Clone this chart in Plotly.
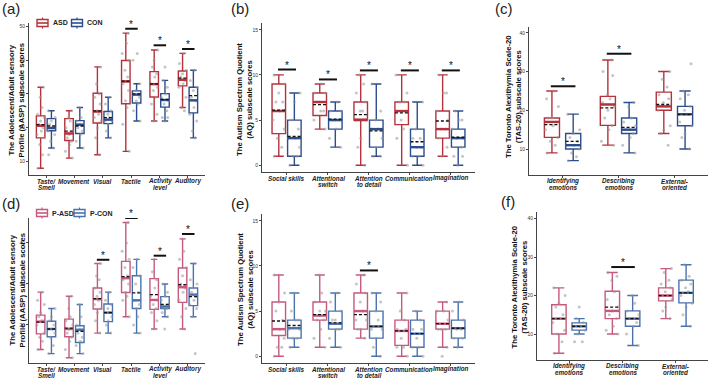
import plotly.graph_objects as go

W, H = 709, 382

# ------------------------------------------------------------------ data
AASP_CATS = ["Taste/<br>Smell", "Movement", "Visual", "Tactile", "Activity<br>level", "Auditory"]
AQ_CATS = ["Social skills", "Attentional<br>switch", "Attention<br>to detail", "Communication", "Imagination"]
TAS_CATS = ["Identifying<br>emotions", "Describing<br>emotions", "External-<br>oriented"]

# (a) AASP, ASD vs CON
A_ASD = dict(low=[8, 11, 12, 13, 22, 26], q1=[17, 16.2, 21.4, 27.1, 29.1, 32.4],
             med=[20.6, 18.3, 24.8, 33.7, 32.9, 34.2], q3=[23.5, 22.7, 30.2, 39.9, 36.6, 36.8],
             high=[32, 25, 38, 48, 43, 42], mean=[20.9, 19, 25, 33.8, 33, 34.7])
A_CON = dict(low=[14, 14, 17, 22, 22, 17], q1=[19.1, 18.3, 21.2, 27.3, 26.1, 24.4],
             med=[19.9, 20.9, 22.4, 29.8, 28.2, 28.1], q3=[22.7, 22.1, 24.8, 30.9, 30.1, 32],
             high=[25, 26, 29, 33, 34, 37], mean=[20.5, 20.5, 23, 30, 28.4, 29.5])
A_ASD_PTS = [[8, 12, 15, 17, 18, 19, 20, 21, 22, 23, 24, 26, 29, 32],
             [11, 13, 15, 16, 17, 18, 19, 20, 22, 23, 25],
             [12, 17, 20, 22, 23, 24, 25, 27, 29, 30, 33, 38],
             [13, 21, 26, 28, 31, 33, 35, 37, 40, 42, 45, 48],
             [22, 24, 27, 29, 31, 32, 33, 35, 36, 38, 40, 43],
             [25, 26, 29, 32, 33, 34, 35, 36, 37, 39, 42]]
A_CON_PTS = [[12, 14, 16, 18, 19, 20, 20, 21, 22, 23, 25],
             [14, 16, 18, 19, 20, 21, 21, 22, 23, 26],
             [17, 19, 21, 22, 22, 23, 24, 25, 27, 29],
             [22, 25, 27, 28, 29, 30, 30, 31, 33, 40, 42],
             [22, 23, 23, 25, 27, 28, 29, 30, 32, 34, 38],
             [17, 19, 22, 24, 26, 28, 29, 31, 32, 34, 37]]
A_SIG_CAT = [3, 4, 5]
A_SIG_Y = [49.3, 44.4, 43.3]

# (b) AQ, ASD vs CON
B_ASD = dict(low=[1, 4, 0, 0, 1], q1=[3.5, 5.5, 5, 4.5, 3], med=[6, 7, 5, 6, 4],
             q3=[9, 8, 7, 7, 6], high=[10, 9, 10, 10, 10], mean=[6.1, 6.7, 5.6, 5.8, 4.9])
B_CON = dict(low=[0, 2, 1, 0, 0], q1=[1, 4, 2, 1, 2], med=[3, 5, 4, 2, 3],
             q3=[5, 6, 5, 4, 4], high=[8, 7, 9, 7, 6], mean=[3.2, 5.1, 3.8, 2.6, 3.1])
B_ASD_PTS = [[1, 2, 3, 4, 5, 6, 7, 7, 8, 9, 10],
             [4, 5, 6, 6, 7, 7, 8, 8, 9],
             [0, 2, 3, 5, 5, 6, 6, 7, 8, 9, 10],
             [0, 3, 4, 5, 6, 6, 7, 7, 8, 10],
             [1, 2, 3, 4, 4, 5, 6, 8, 8, 10]]
B_CON_PTS = [[0, 1, 1, 2, 3, 3, 4, 5, 7, 8],
             [2, 3, 4, 5, 5, 5, 6, 6, 7],
             [1, 1, 2, 3, 4, 4, 5, 6, 9],
             [0, 1, 1, 2, 2, 3, 3, 4, 7],
             [0, 1, 1, 2, 3, 3, 4, 5, 5, 6]]
B_SIG_CAT = [0, 1, 2, 3, 4]
B_SIG_Y = [10.6, 9.5, 10.5, 10.5, 10.5]

# (c) TAS-20, ASD vs CON
C_ASD = dict(low=[9, 11, 14], q1=[13, 16.1, 20], med=[17, 21.5, 21],
             q3=[18, 23.6, 24.7], high=[25, 33, 30], mean=[16.3, 20.6, 21.5])
C_CON = dict(low=[7, 9, 10], q1=[10, 14, 16], med=[11, 15, 19],
             q3=[14, 18, 21], high=[19, 22, 25], mean=[12, 15.6, 18.9])
C_ASD_PTS = [[9, 11, 12, 13, 15, 16, 17, 18, 18, 21, 23, 25],
             [11, 12, 15, 16, 18, 20, 21, 22, 23, 24, 29, 30, 33],
             [11, 14, 15, 16, 20, 21, 22, 23, 24, 26, 28, 30]]
C_CON_PTS = [[7, 8, 9, 10, 11, 11, 12, 13, 14, 15, 19],
             [9, 11, 13, 14, 15, 15, 16, 17, 18, 21, 22],
             [10, 13, 14, 16, 17, 19, 20, 21, 23, 24, 25, 32]]
C_SIG_CAT = [0, 1]
C_SIG_Y = [26.2, 34.6]

# (d) AASP, P-ASD vs P-CON
D_ASD = dict(low=[14, 12, 18, 22, 19, 19], q1=[17.8, 17.1, 23.9, 27.9, 23.8, 25.5],
             med=[20.8, 19, 26.3, 31.4, 26.1, 29.2], q3=[22.4, 21.4, 29, 35.5, 31.3, 33.9],
             high=[28, 27, 35, 45, 36, 41], mean=[20.7, 19.2, 26.4, 31.8, 27.4, 29.8])
D_CON = dict(low=[13, 13, 18, 18, 22, 22], q1=[17.1, 15.7, 20.8, 24, 24, 24.7],
             med=[19, 18.8, 23, 26, 24.5, 27.4], q3=[20.9, 19.8, 25.1, 32, 26.9, 29],
             high=[24, 25, 28, 36, 30, 35], mean=[19, 18.4, 23, 27.8, 25, 26.9])
D_ASD_PTS = [[14, 16, 17, 18, 20, 21, 21, 22, 23, 25, 26, 28],
             [12, 14, 16, 17, 18, 19, 20, 21, 22, 24, 27],
             [18, 21, 23, 24, 25, 26, 27, 28, 29, 31, 32, 35],
             [22, 26, 27, 28, 30, 31, 32, 34, 36, 38, 40, 45],
             [19, 21, 23, 24, 25, 26, 27, 29, 31, 33, 36],
             [19, 22, 24, 26, 28, 29, 30, 32, 34, 36, 38, 41]]
D_CON_PTS = [[13, 15, 17, 18, 19, 19, 20, 21, 22, 24],
             [13, 15, 16, 17, 18, 19, 19, 20, 22, 25],
             [18, 20, 21, 22, 23, 23, 24, 25, 26, 28],
             [18, 20, 22, 24, 25, 26, 28, 30, 32, 34, 36],
             [19, 22, 23, 24, 24, 25, 26, 27, 28, 30],
             [13, 22, 24, 25, 26, 27, 28, 29, 30, 31, 35]]
D_SIG_CAT = [2, 3, 4, 5]
D_SIG_Y = [35.9, 46.1, 36.9, 42.2]

# (e) AQ, P-ASD vs P-CON
E_ASD = dict(low=[0, 1, 2, 0, 1], q1=[2.3, 4, 3, 1.2, 3], med=[3, 4.5, 5, 2.8, 3.6],
             q3=[6, 6, 7, 4, 5], high=[9, 9, 9, 7, 6], mean=[3.9, 4.6, 4.6, 2.8, 3.6])
E_CON = dict(low=[1, 1, 0, 0, 1], q1=[2, 3, 2, 1, 2], med=[3.1, 3.6, 3.3, 2.5, 3.1],
             q3=[4, 5, 5, 4, 4], high=[7, 7, 7, 5, 6], mean=[3.4, 3.7, 3.3, 2.5, 3.1])
E_ASD_PTS = [[0, 1, 1, 2, 3, 3, 4, 5, 6, 7, 9],
             [1, 2, 3, 4, 4, 5, 5, 6, 7, 9],
             [2, 3, 3, 4, 4, 5, 6, 7, 8, 9],
             [0, 1, 1, 2, 3, 3, 4, 5, 7],
             [0, 1, 3, 3, 3, 4, 5, 5, 6]]
E_CON_PTS = [[1, 2, 2, 3, 3, 4, 4, 5, 7],
             [1, 2, 3, 3, 4, 4, 5, 6, 7],
             [0, 1, 2, 3, 3, 4, 5, 6, 7],
             [0, 1, 1, 2, 3, 3, 4, 5],
             [1, 2, 2, 3, 3, 4, 5, 6]]
E_SIG_CAT = [2]
E_SIG_Y = [9.5]

# (f) TAS-20, P-ASD vs P-CON
F_ASD = dict(low=[5, 10, 14], q1=[10, 14, 18.6], med=[14, 16, 20],
             q3=[17.6, 21.1, 22], high=[22, 26, 27], mean=[14, 17, 20])
F_CON = dict(low=[10, 7, 12], q1=[11, 12, 18.1], med=[12, 14, 20.7],
             q3=[12.9, 16, 24], high=[14, 20, 28], mean=[12, 14, 20.7])
F_ASD_PTS = [[5, 8, 10, 11, 13, 14, 15, 17, 18, 20, 22],
             [10, 11, 12, 14, 15, 16, 17, 19, 21, 24, 25, 26],
             [14, 16, 17, 19, 20, 20, 21, 22, 23, 24, 26, 27]]
F_CON_PTS = [[8, 8, 10, 11, 12, 12, 13, 14, 17],
             [7, 10, 12, 13, 14, 14, 15, 16, 18, 20],
             [12, 15, 17, 18, 20, 21, 22, 23, 24, 25, 28]]
F_SIG_CAT = [1]
F_SIG_Y = [27.4]

# ------------------------------------------------------------------ style
RED1, BLUE1 = "#b5323d", "#2c4d8c"
RED2, BLUE2 = "#c75a7c", "#4a72b0"
PT_COLOR = "rgba(150,150,150,0.55)"
FONT = "Liberation Sans, Arial, sans-serif"
OFF = 0.19     # dodge offset
JIT = [-0.09, 0.06, -0.03, 0.11, -0.12, 0.02, 0.08, -0.06, 0.0, 0.12, -0.1, 0.04, -0.01, 0.09]
XLAB_GAP = 6.0      # px from axis line to first label line centre
XLAB_LINE = 6.4     # px between label lines

# panel pixel boxes: left, right, top, bottom
PANELS = [
    dict(lab="(a)", lab_xy=(11, 9), cats=AASP_CATS, g=(A_ASD, A_CON), pts=(A_ASD_PTS, A_CON_PTS),
         cols=(RED1, BLUE1), box=(29, 205, 23, 175), yr=(6, 51), dt=10, bw=0.3,
         sig=(A_SIG_CAT, A_SIG_Y),
         title="The Adolescent/Adult sensory<br>Profile (AASP) subscale scores", title_xy=(16.5, 100)),
    dict(lab="(b)", lab_xy=(240, 9), cats=AQ_CATS, g=(B_ASD, B_CON), pts=(B_ASD_PTS, B_CON_PTS),
         cols=(RED1, BLUE1), box=(262, 475, 23, 172), yr=(-0.75, 15.75), dt=5, bw=0.33,
         sig=(B_SIG_CAT, B_SIG_Y),
         title="The Autism Spectrum Quotient<br>(AQ) subscale scores", title_xy=(245, 100)),
    dict(lab="(c)", lab_xy=(504, 9), cats=TAS_CATS, g=(C_ASD, C_CON), pts=(C_ASD_PTS, C_CON_PTS),
         cols=(RED1, BLUE1), box=(529, 708, 27, 175), yr=(3.3, 41.5), dt=10, bw=0.27,
         sig=(C_SIG_CAT, C_SIG_Y),
         title="The Toronto Alexithymia Scale-20<br>(TAS-20) subscale scores", title_xy=(513, 97)),
    dict(lab="(d)", lab_xy=(11, 203), cats=AASP_CATS, g=(D_ASD, D_CON), pts=(D_ASD_PTS, D_CON_PTS),
         cols=(RED2, BLUE2), box=(29, 205, 218, 363), yr=(10.7, 46.1), dt=10, bw=0.3,
         sig=(D_SIG_CAT, D_SIG_Y),
         title="The Adolescent/Adult sensory<br>Profile (AASP) subscale scores", title_xy=(16.5, 290)),
    dict(lab="(e)", lab_xy=(240, 203), cats=AQ_CATS, g=(E_ASD, E_CON), pts=(E_ASD_PTS, E_CON_PTS),
         cols=(RED2, BLUE2), box=(262, 475, 214, 363), yr=(-0.75, 15.75), dt=5, bw=0.33,
         sig=(E_SIG_CAT, E_SIG_Y),
         title="The Autism Spectrum Quotient<br>(AQ) subscale scores", title_xy=(245, 290)),
    dict(lab="(f)", lab_xy=(508, 202), cats=TAS_CATS, g=(F_ASD, F_CON), pts=(F_ASD_PTS, F_CON_PTS),
         cols=(RED2, BLUE2), box=(537, 708, 212, 360), yr=(3.25, 41.7), dt=10, bw=0.27,
         sig=(F_SIG_CAT, F_SIG_Y),
         title="The Toronto Alexithymia Scale-20<br>(TAS-20) subscale scores", title_xy=(518.5, 287)),
]

LEGENDS = [
    dict(names=["ASD", "CON"], cols=(RED1, BLUE1), y=23, icon_x=(42.5, 77), text_x=(51, 85)),
    dict(names=["P-ASD", "P-CON"], cols=(RED2, BLUE2), y=213, icon_x=(42, 79.5), text_x=(50, 87.5)),
]


def px(x):
    return x / W


def py(y):
    return 1 - y / H


fig = go.Figure()
annotations = []
shapes = []
layout_axes = {}

for k, p in enumerate(PANELS, start=1):
    xa = "x" if k == 1 else f"x{k}"
    ya = "y" if k == 1 else f"y{k}"
    n = len(p["cats"])
    bw = p["bw"]
    for gi, (stats, pts, col) in enumerate(zip(p["g"], p["pts"], p["cols"])):
        off = -OFF if gi == 0 else OFF
        pos = [i + off for i in range(n)]
        fig.add_trace(go.Box(
            x=pos, q1=stats["q1"], median=stats["med"], q3=stats["q3"],
            lowerfence=stats["low"], upperfence=stats["high"],
            boxpoints=False, width=bw, whiskerwidth=0.75,
            line=dict(color=col, width=1.4), fillcolor="rgba(255,255,255,0)",
            xaxis=xa, yaxis=ya, showlegend=False, hoverinfo="skip"))
        # jittered observations
        jx, jy = [], []
        for i, vals in enumerate(pts):
            for j, v in enumerate(vals):
                jx.append(pos[i] + JIT[(j + i * 3) % len(JIT)] * bw / 0.28)
                jy.append(v)
        fig.add_trace(go.Scatter(x=jx, y=jy, mode="markers",
                                 marker=dict(size=3, color=PT_COLOR),
                                 xaxis=xa, yaxis=ya, showlegend=False, hoverinfo="skip"))
        # thick median and dashed mean
        mx, my, ax_, ay = [], [], [], []
        for i in range(n):
            mx += [pos[i] - bw / 2, pos[i] + bw / 2, None]
            my += [stats["med"][i], stats["med"][i], None]
            ax_ += [pos[i] - bw / 2, pos[i] + bw / 2, None]
            ay += [stats["mean"][i], stats["mean"][i], None]
        fig.add_trace(go.Scatter(x=mx, y=my, mode="lines", line=dict(color=col, width=2.4),
                                 xaxis=xa, yaxis=ya, showlegend=False, hoverinfo="skip"))
        fig.add_trace(go.Scatter(x=ax_, y=ay, mode="lines",
                                 line=dict(color="#111111", width=1.3, dash="3px,2px"),
                                 xaxis=xa, yaxis=ya, showlegend=False, hoverinfo="skip"))
    # significance bars
    sc, sy = p["sig"]
    bx, by = [], []
    for c, yv in zip(sc, sy):
        bx += [c - OFF - 0.02, c + OFF + 0.04, None]
        by += [yv, yv, None]
        annotations.append(dict(x=c + 0.01, y=yv, xref=xa, yref=ya, text="*", showarrow=False,
                                yanchor="bottom", yshift=-3,
                                font=dict(size=10, color="#111", family=FONT)))
    fig.add_trace(go.Scatter(x=bx, y=by, mode="lines", line=dict(color="#111111", width=2),
                             xaxis=xa, yaxis=ya, showlegend=False, hoverinfo="skip"))

    l, r, t, b = p["box"]
    xkey = "xaxis" if k == 1 else f"xaxis{k}"
    ykey = "yaxis" if k == 1 else f"yaxis{k}"
    layout_axes[xkey] = dict(
        domain=[px(l), px(r)], anchor=ya, range=[-0.6, n - 0.4],
        tickmode="array", tickvals=list(range(n)), showticklabels=False,
        showline=True, linecolor="#444", linewidth=1, ticks="outside", ticklen=2,
        tickcolor="#444", showgrid=False, zeroline=False)
    layout_axes[ykey] = dict(
        domain=[py(b), py(t)], anchor=xa, range=list(p["yr"]), dtick=p["dt"],
        tickfont=dict(size=5, color="#333", family=FONT),
        showline=True, linecolor="#444", linewidth=1, ticks="outside", ticklen=2,
        tickcolor="#444", showgrid=False, zeroline=False)
    # category labels, one text line per annotation for tight line spacing
    for i, cat in enumerate(p["cats"]):
        for j, line in enumerate(cat.split("<br>")):
            annotations.append(dict(
                x=i, y=py(b + XLAB_GAP + j * XLAB_LINE), xref=xa, yref="paper",
                text=f"<b><i>{line}</i></b>", showarrow=False, borderpad=0,
                xanchor="center", yanchor="middle",
                font=dict(size=6.3, color="#222", family=FONT)))
    annotations.append(dict(x=px(p["lab_xy"][0]), y=py(p["lab_xy"][1]), xref="paper", yref="paper",
                            text=p["lab"], showarrow=False, xanchor="center", yanchor="middle",
                            font=dict(size=15, color="#222", family=FONT)))
    annotations.append(dict(x=px(p["title_xy"][0]), y=py(p["title_xy"][1]), xref="paper", yref="paper",
                            text=f"<b>{p['title']}</b>", showarrow=False, textangle=-90,
                            xanchor="center", yanchor="middle",
                            font=dict(size=7.7, color="#111", family=FONT)))

# manual legends (box glyphs + labels)
for lg in LEGENDS:
    for name, col, ix, tx in zip(lg["names"], lg["cols"], lg["icon_x"], lg["text_x"]):
        yc = lg["y"]
        shapes.append(dict(type="rect", xref="paper", yref="paper",
                           x0=px(ix - 5.5), x1=px(ix + 5.5), y0=py(yc + 3.5), y1=py(yc - 3.5),
                           line=dict(color=col, width=1.4), fillcolor="white"))
        shapes.append(dict(type="line", xref="paper", yref="paper",
                           x0=px(ix - 5.5), x1=px(ix + 5.5), y0=py(yc), y1=py(yc),
                           line=dict(color=col, width=1.6)))
        for y0, y1 in ((yc - 3.5, yc - 5.5), (yc + 3.5, yc + 5.5)):
            shapes.append(dict(type="line", xref="paper", yref="paper",
                               x0=px(ix), x1=px(ix), y0=py(y0), y1=py(y1),
                               line=dict(color=col, width=1.2)))
        annotations.append(dict(x=px(tx), y=py(yc), xref="paper", yref="paper",
                                text=f"<b>{name}</b>", showarrow=False,
                                xanchor="left", yanchor="middle",
                                font=dict(size=7, color="#222", family=FONT)))

fig.update_layout(
    width=W, height=H, margin=dict(l=0, r=0, t=0, b=0),
    paper_bgcolor="white", plot_bgcolor="white", showlegend=False,
    boxmode="overlay", annotations=annotations, shapes=shapes,
    font=dict(family=FONT), hovermode=False, **layout_axes)

fig.write_html("out.html", config={"displayModeBar": False},
               post_script="document.body.style.margin='0';document.body.style.overflow='hidden';")
